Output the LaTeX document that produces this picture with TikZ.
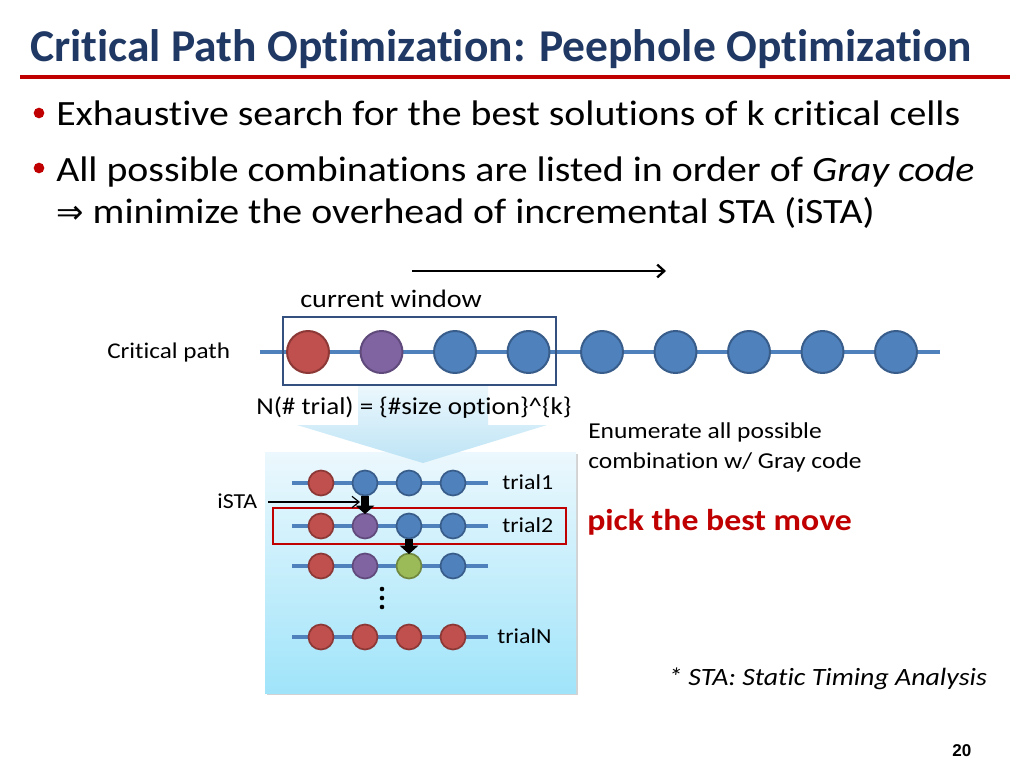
\documentclass[tikz,border=0pt]{standalone}
\usepackage{fontspec}
\setmainfont{Carlito}[FakeStretch=1.12, RawFeature={-liga}]
\newfontfamily\titlefont{Carlito}[RawFeature={-liga}]
\newfontfamily\symfont{DejaVu Sans}
\newfontfamily\pagefont{Liberation Sans}
\usetikzlibrary{arrows.meta,shadows}
\definecolor{titleblue}{RGB}{31,56,100}
\definecolor{slidered}{RGB}{192,0,0}
\definecolor{pathblue}{RGB}{79,129,189}
\definecolor{winblue}{RGB}{52,80,126}
\definecolor{redfill}{RGB}{192,80,77}
\definecolor{reddraw}{RGB}{140,56,54}
\definecolor{purfill}{RGB}{128,100,162}
\definecolor{purdraw}{RGB}{96,74,123}
\definecolor{bluefill}{RGB}{79,129,189}
\definecolor{bluedraw}{RGB}{56,93,138}
\definecolor{grnfill}{RGB}{155,187,89}
\definecolor{grndraw}{RGB}{113,137,63}
\definecolor{boxtop}{RGB}{236,248,253}
\definecolor{boxbot}{RGB}{160,228,250}
\begin{document}
\begin{tikzpicture}[x=0.703125pt, y=-0.703125pt,
    cell/.style ={circle, inner sep=0pt, minimum size=29.5pt, line width=1.4pt},
    tcell/.style={circle, inner sep=0pt, minimum size=17.6pt, line width=1.2pt},
    rd/.style={fill=redfill, draw=reddraw},
    pu/.style={fill=purfill, draw=purdraw},
    bl/.style={fill=bluefill, draw=bluedraw},
    gr/.style={fill=grnfill, draw=grndraw},
    txt/.style={anchor=base west, inner sep=0pt, font=\fontsize{15}{18}\selectfont},
    bullet/.style={circle, fill=slidered, inner sep=0pt, minimum size=7.5pt},
    wire/.style={draw=pathblue, line width=3.4pt},
    twire/.style={draw=pathblue, line width=2.8pt},
    move/.style={line width=5.5pt, -{Triangle[width=13pt, length=6pt]}, shorten >=-1pt}
    ]
    \useasboundingbox[fill=white] (0,0) rectangle (1024,768);

    % title and bullets
    \node[txt, font=\titlefont\fontsize{32}{38}\selectfont\bfseries, text=titleblue] (title) at (30,62) {Critical Path Optimization: Peephole Optimization};
    \draw[slidered, line width=3pt] (20,77) -- (1010,77);
    \node[bullet] (b1) at (39,113) {};
    \node[txt, font=\fontsize{25}{30}\selectfont] (t1) at (56,126) {Exhaustive search for the best solutions of k critical cells};
    \node[bullet] (b2) at (39,168) {};
    \node[txt, font=\fontsize{25}{30}\selectfont] (t2) at (56,182) {All possible combinations are listed in order of \textit{Gray code}};
    \node[txt, font=\fontsize{25}{30}\selectfont] (t3) at (56,224) {{\symfont\fontsize{23}{27}\selectfont ⇒} minimize the overhead of incremental STA (iSTA)};

    % sliding direction
    \coordinate (sl) at (412,271);
    \coordinate (sr) at (666,271);
    \draw[line width=1.6pt, -{Straight Barb[length=5pt, width=9pt]}] (sl) -- (sr);
    \node[txt, font=\fontsize{17.7}{21}\selectfont] (cw) at (300,307) {current window};

    % callout and trial box
    \path[drop shadow={opacity=0.35, shadow xshift=1.5pt, shadow yshift=-1.5pt}, top color=boxtop, bottom color=boxbot]
        (265,452) rectangle (576,693);
    \path[top color=boxtop, bottom color=boxbot!80!pathblue!60]
        (358,385) -- (488,385) -- (488,425) -- (547,425) -- (423,463) -- (297,425) -- (358,425) -- cycle;

    % critical path
    \node[txt, font=\fontsize{15.8}{19}\selectfont] (cp) at (107,358) {Critical path};
    \coordinate (pl) at (260,352);
    \coordinate (pr) at (940,352);
    \draw[wire] (pl) -- (pr);
    \foreach \i/\c in {0/rd, 1/pu, 2/bl, 3/bl, 4/bl, 5/bl, 6/bl, 7/bl, 8/bl}
        \node[cell, \c] (c\i) at ({308+73.5*\i},352) {};
    \draw[winblue, line width=1.5pt] (283,317) rectangle (556,385);
    \node[txt, font=\fontsize{17}{20}\selectfont] (nt) at (256,414) {N(\# trial) = \{\#size option\}\^{}\{k\}};

    % trials
    \foreach \r/\y/\cols in {1/483/{rd,bl,bl,bl}, 2/526/{rd,pu,bl,bl}, 3/566/{rd,pu,gr,bl}, 4/637/{rd,rd,rd,rd}} {
        \coordinate (r\r l) at (292,\y);
        \coordinate (r\r r) at (488,\y);
        \draw[twire] (r\r l) -- (r\r r);
        \foreach \c [count=\j from 0] in \cols
            \node[tcell, \c] (r\r c\j) at ({321+44*\j},\y) {};
    }
    \node[txt] (tr1) at (502,489) {trial1};
    \node[txt] (tr2) at (502,532) {trial2};
    \node[txt] (trN) at (497,643) {trialN};
    \draw[slidered, line width=1.8pt] (273,508) rectangle (566,544);
    \draw[move] (r1c1.south) -- (r2c1.north);
    \draw[move] (r2c2.south) -- (r3c2.north);
    \foreach \y in {589,598,607}
        \fill (382,\y) circle (1.6pt);

    % iSTA
    \node[txt, font=\fontsize{15}{18}\selectfont] (ista) at (217,508) {iSTA};
    \coordinate (ie) at (360,502);
    \draw[line width=0.8pt, -{Straight Barb[length=5pt, width=8pt]}] (268,502) -- (ie);

    % notes
    \node[txt, font=\fontsize{16}{19}\selectfont] (en1) at (588,438) {Enumerate all possible};
    \node[txt, font=\fontsize{16}{19}\selectfont] (en2) at (588,468) {combination w/ Gray code};
    \node[txt, font=\fontsize{21.2}{25}\selectfont\bfseries, text=slidered] (pick) at (587,530) {pick the best move};
    \node[txt, font=\fontsize{17.5}{21}\selectfont\itshape] (sta) at (668,685) {* STA: Static Timing Analysis};
    \node[txt, font=\pagefont\fontsize{12}{14}\selectfont\bfseries] (pg) at (952,756) {20};
\end{tikzpicture}
\end{document}
